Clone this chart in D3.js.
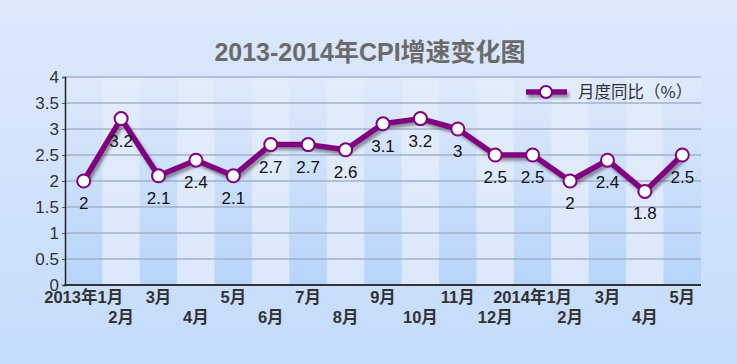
<!DOCTYPE html>
<html lang="zh">
  <head>
    <meta charset="utf-8" />
    <script src="https://d3js.org/d3.v7.min.js"></script>
    <style>
      body { margin: 0; }
    </style>
  </head>
  <body>
    <script>
      // chart data
      var months = ["2013年1月", "2月", "3月", "4月", "5月", "6月", "7月", "8月", "9月",
        "10月", "11月", "12月", "2014年1月", "2月", "3月", "4月", "5月"];
      var cpi = [2, 3.2, 2.1, 2.4, 2.1, 2.7, 2.7, 2.6, 3.1, 3.2, 3, 2.5, 2.5, 2, 2.4, 1.8, 2.5];
      var yTicks = [0, 0.5, 1, 1.5, 2, 2.5, 3, 3.5, 4];
      var seriesName = "月度同比（%）";
      var title = "2013-2014年CPI增速变化图";

      var width = 737,
        height = 364;
      var plotL = 65, plotR = 701, plotT = 77, plotB = 285;
      var purple = "#800080";
      var numFont = "'Liberation Sans', Arial, 'Noto Sans CJK SC', sans-serif";

      var svg = d3.select("body")
        .append("svg")
        .attr("width", width)
        .attr("height", height);

      var defs = svg.append("defs");
      var bg = defs.append("linearGradient").attr("id", "bg")
        .attr("x1", 0).attr("y1", 0).attr("x2", 0).attr("y2", 1);
      bg.append("stop").attr("offset", 0).attr("stop-color", "#dde9fb");
      bg.append("stop").attr("offset", 1).attr("stop-color", "#c5dcfb");

      var dark = defs.append("linearGradient").attr("id", "bandDark")
        .attr("x1", 0).attr("y1", 0).attr("x2", 0).attr("y2", 1);
      dark.append("stop").attr("offset", 0).attr("stop-color", "#dfeafb");
      dark.append("stop").attr("offset", 1).attr("stop-color", "#b7d4fb");

      var light = defs.append("linearGradient").attr("id", "bandLight")
        .attr("x1", 0).attr("y1", 0).attr("x2", 0).attr("y2", 1);
      light.append("stop").attr("offset", 0).attr("stop-color", "#e2ecfb");
      light.append("stop").attr("offset", 1).attr("stop-color", "#dce8fb");

      // user space region so flat lines (the legend) still get a shadow
      var shadow = defs.append("filter").attr("id", "shadow")
        .attr("filterUnits", "userSpaceOnUse")
        .attr("x", 0).attr("y", 0).attr("width", width).attr("height", height);
      shadow.append("feDropShadow")
        .attr("dx", 2).attr("dy", 3).attr("stdDeviation", 1.5)
        .attr("flood-color", "#333").attr("flood-opacity", 0.5);

      svg.append("rect").attr("width", width).attr("height", height).attr("fill", "url(#bg)");

      // title
      svg.append("text")
        .attr("x", 370)
        .attr("y", 61)
        .attr("text-anchor", "middle")
        .attr("font-family", "'Liberation Sans Narrow', 'Liberation Sans', 'Noto Sans CJK SC', sans-serif")
        .attr("font-weight", "bold")
        .attr("font-size", 25)
        .attr("fill", "#6b6b6b")
        .text(title);

      // month labels repeat, so the band scale works on indexes
      var x = d3.scaleBand().domain(d3.range(months.length)).range([plotL, plotR]);
      var y = d3.scaleLinear().domain([0, 4]).range([plotB, plotT]);
      var cx = function (d, i) { return x(i) + x.bandwidth() / 2; };

      // alternating column bands
      svg.append("g").selectAll("rect")
        .data(months)
        .join("rect")
        .attr("x", function (d, i) { return x(i); })
        .attr("y", plotT)
        .attr("width", x.bandwidth())
        .attr("height", plotB - plotT)
        .attr("fill", function (d, i) { return i % 2 === 0 ? "url(#bandDark)" : "url(#bandLight)"; });

      // grid lines
      svg.append("g").selectAll("line")
        .data(yTicks.slice(1))
        .join("line")
        .attr("x1", plotL).attr("x2", plotR)
        .attr("y1", function (d) { return y(d); })
        .attr("y2", function (d) { return y(d); })
        .attr("stroke", "#a2b2ca")
        .attr("stroke-width", 1.5);

      // y axis
      var yAxis = svg.append("g")
        .attr("transform", "translate(" + plotL + ",0)")
        .call(d3.axisLeft(y).tickValues(yTicks).tickSize(3).tickPadding(3).tickFormat(d3.format("")));
      yAxis.select(".domain").attr("stroke", "#222").attr("stroke-width", 1.5);
      yAxis.selectAll(".tick line").attr("stroke", "#555");
      yAxis.selectAll("text")
        .attr("font-family", numFont)
        .attr("font-size", 17)
        .attr("fill", "#333");

      // bottom axis line
      svg.append("line")
        .attr("x1", plotL - 1).attr("x2", plotR)
        .attr("y1", plotB).attr("y2", plotB)
        .attr("stroke", "#333")
        .attr("stroke-width", 2);

      // x labels, staggered on two rows
      svg.append("g").selectAll("text")
        .data(months)
        .join("text")
        .attr("x", cx)
        .attr("y", function (d, i) { return i % 2 === 0 ? 303 : 323; })
        .attr("text-anchor", "middle")
        .attr("font-family", numFont)
        .attr("font-weight", "bold")
        .attr("font-size", 16.5)
        .attr("fill", "#333")
        .text(function (d) { return d; });

      // series line
      var line = d3.line()
        .x(cx)
        .y(function (d) { return y(d); });

      svg.append("path")
        .datum(cpi)
        .attr("d", line)
        .attr("fill", "none")
        .attr("stroke", purple)
        .attr("stroke-width", 5.5)
        .attr("stroke-linejoin", "round")
        .attr("filter", "url(#shadow)");

      svg.append("g").selectAll("circle")
        .data(cpi)
        .join("circle")
        .attr("cx", cx)
        .attr("cy", function (d) { return y(d); })
        .attr("r", 6.5)
        .attr("fill", "#fff")
        .attr("stroke", purple)
        .attr("stroke-width", 2);

      // value labels
      svg.append("g").selectAll("text")
        .data(cpi)
        .join("text")
        .attr("x", cx)
        .attr("y", function (d) { return y(d) + 28; })
        .attr("text-anchor", "middle")
        .attr("font-family", numFont)
        .attr("font-size", 17)
        .attr("fill", "#111")
        .text(function (d) { return d; });

      // legend
      var lg = svg.append("g");
      lg.append("line")
        .attr("x1", 526).attr("x2", 567)
        .attr("y1", 92).attr("y2", 92)
        .attr("stroke", purple)
        .attr("stroke-width", 5.5)
        .attr("filter", "url(#shadow)");
      lg.append("circle")
        .attr("cx", 546).attr("cy", 92).attr("r", 6)
        .attr("fill", "#fff")
        .attr("stroke", purple)
        .attr("stroke-width", 2);
      lg.append("text")
        .attr("x", 578)
        .attr("y", 98)
        .attr("font-family", "'Noto Sans CJK SC', sans-serif")
        .attr("font-size", 16.5)
        .attr("fill", "#333")
        .text(seriesName);
    </script>
  </body>
</html>
